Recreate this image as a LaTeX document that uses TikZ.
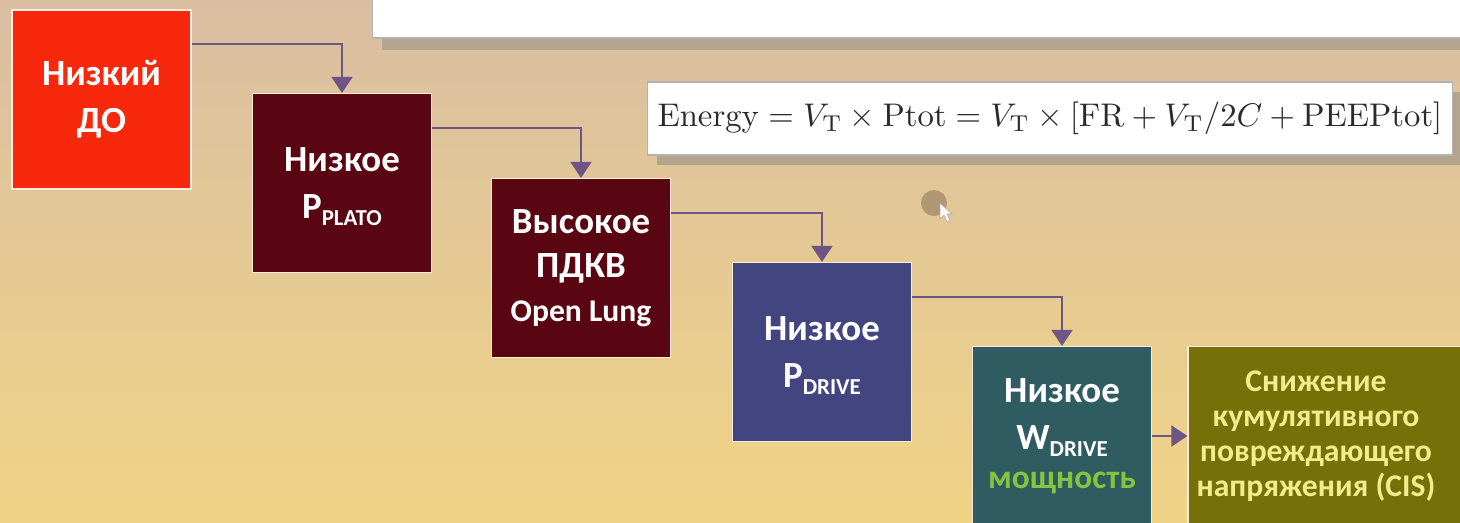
\documentclass[tikz,border=0pt]{standalone}
\usepackage[no-math]{fontspec}
\usepackage{graphicx}
\setmainfont{Carlito}
\usetikzlibrary{arrows.meta}
\definecolor{bgtop}{HTML}{D9BEA2}
\definecolor{bgmid}{HTML}{EACB8E}
\definecolor{bgbot}{HTML}{F0D486}
\definecolor{redc}{HTML}{F7280B}
\definecolor{maroon}{HTML}{5A0612}
\definecolor{bluec}{HTML}{42457F}
\definecolor{tealc}{HTML}{2F5C60}
\definecolor{olivec}{HTML}{767009}
\definecolor{olivetext}{HTML}{F4EC8C}
\definecolor{greenc}{HTML}{86C440}
\definecolor{arrowc}{HTML}{6E5585}
\definecolor{boxedge}{HTML}{FAEBDD}
\definecolor{shadowc}{HTML}{B3A48E}
\definecolor{cursorc}{HTML}{A8916C}
\begin{document}
\begin{tikzpicture}[x=0.02cm,y=0.02cm,
  box/.style={draw=boxedge, line width=0.7pt, minimum width=3.58cm, minimum height=3.58cm,
    inner sep=0pt, align=center, text=white, font=\fontsize{21}{27}\selectfont\bfseries},
  conn/.style={draw=arrowc, line width=1.1pt, -{Triangle[width=0.42cm,length=0.32cm]}},
  panel/.style={fill=white, draw=gray!60, line width=0.6pt, inner sep=0pt}]
\useasboundingbox (0,0) rectangle (1460,-522);
\shade[top color=bgtop, middle color=bgmid, bottom color=bgbot] (0,0) rectangle (1460,-522);
% top panel
\fill[shadowc] (382,-10) rectangle (1470,-50);
\node[panel, minimum width=21.96cm, minimum height=0.86cm] (panel) at (921,-16.5) {};
% formula
\fill[shadowc] (657,-92) rectangle (1463,-165);
\node[panel, minimum width=16.12cm, minimum height=1.46cm] (formula) at (1050,-118.5)
  {\color[HTML]{2A2A2A}\resizebox{15.7cm}{!}{$\mathrm{Energy} = V_{\mathrm{T}} \times \mathrm{Ptot} = V_{\mathrm{T}} \times [\mathrm{FR} + V_{\mathrm{T}}/2C + \mathrm{PEEPtot}]$}};
% cursor
\fill[cursorc, opacity=0.85] (934,-203) circle (13);
\fill[white, draw=gray!70, line width=0.3pt] (940,-203) -- (940,-219) -- (944,-215) -- (947,-222) -- (950,-221) -- (947,-214) -- (952,-214) -- cycle;
% boxes
\node[box, fill=redc] (b1) at (101.5,-99.5) {Низкий\\ДО};
\node[box, fill=maroon] (b2) at (342,-183) {Низкое\\P\raisebox{-4pt}[0pt][0pt]{\fontsize{13}{13}\selectfont PLATO}};
\node[box, fill=maroon] (b3) at (581,-268) {Высокое\\[-2pt]ПДКВ\\[-2pt]{\fontsize{18}{22}\selectfont Open Lung}};
\node[box, fill=bluec] (b4) at (822,-352) {Низкое\\P\raisebox{-4pt}[0pt][0pt]{\fontsize{13}{13}\selectfont DRIVE}};
\node[box, fill=tealc] (b5) at (1062,-436) {Низкое\\W\raisebox{-4pt}[0pt][0pt]{\fontsize{13}{13}\selectfont DRIVE}\\[-5pt]{\color{greenc}\fontsize{19}{22}\selectfont мощность}};
\node[box, fill=olivec, minimum width=5.64cm] (b6) at (1329,-436) {};
\node[text=olivetext, align=center, inner sep=0pt, font=\fontsize{18}{20}\selectfont\bfseries] (b6text) at (1316,-436)
  {Снижение\\кумулятивного\\повреждающего\\напряжения (CIS)};
% connectors
\draw[conn] ([yshift=-0.7cm]b1.north east) -| (b2.north);
\draw[conn] ([yshift=-0.7cm]b2.north east) -| (b3.north);
\draw[conn] ([yshift=-0.7cm]b3.north east) -| (b4.north);
\draw[conn] ([yshift=-0.7cm]b4.north east) -| (b5.north);
\draw[conn] (b5.east) -- (b5.east -| b6.west);
\end{tikzpicture}
\end{document}
